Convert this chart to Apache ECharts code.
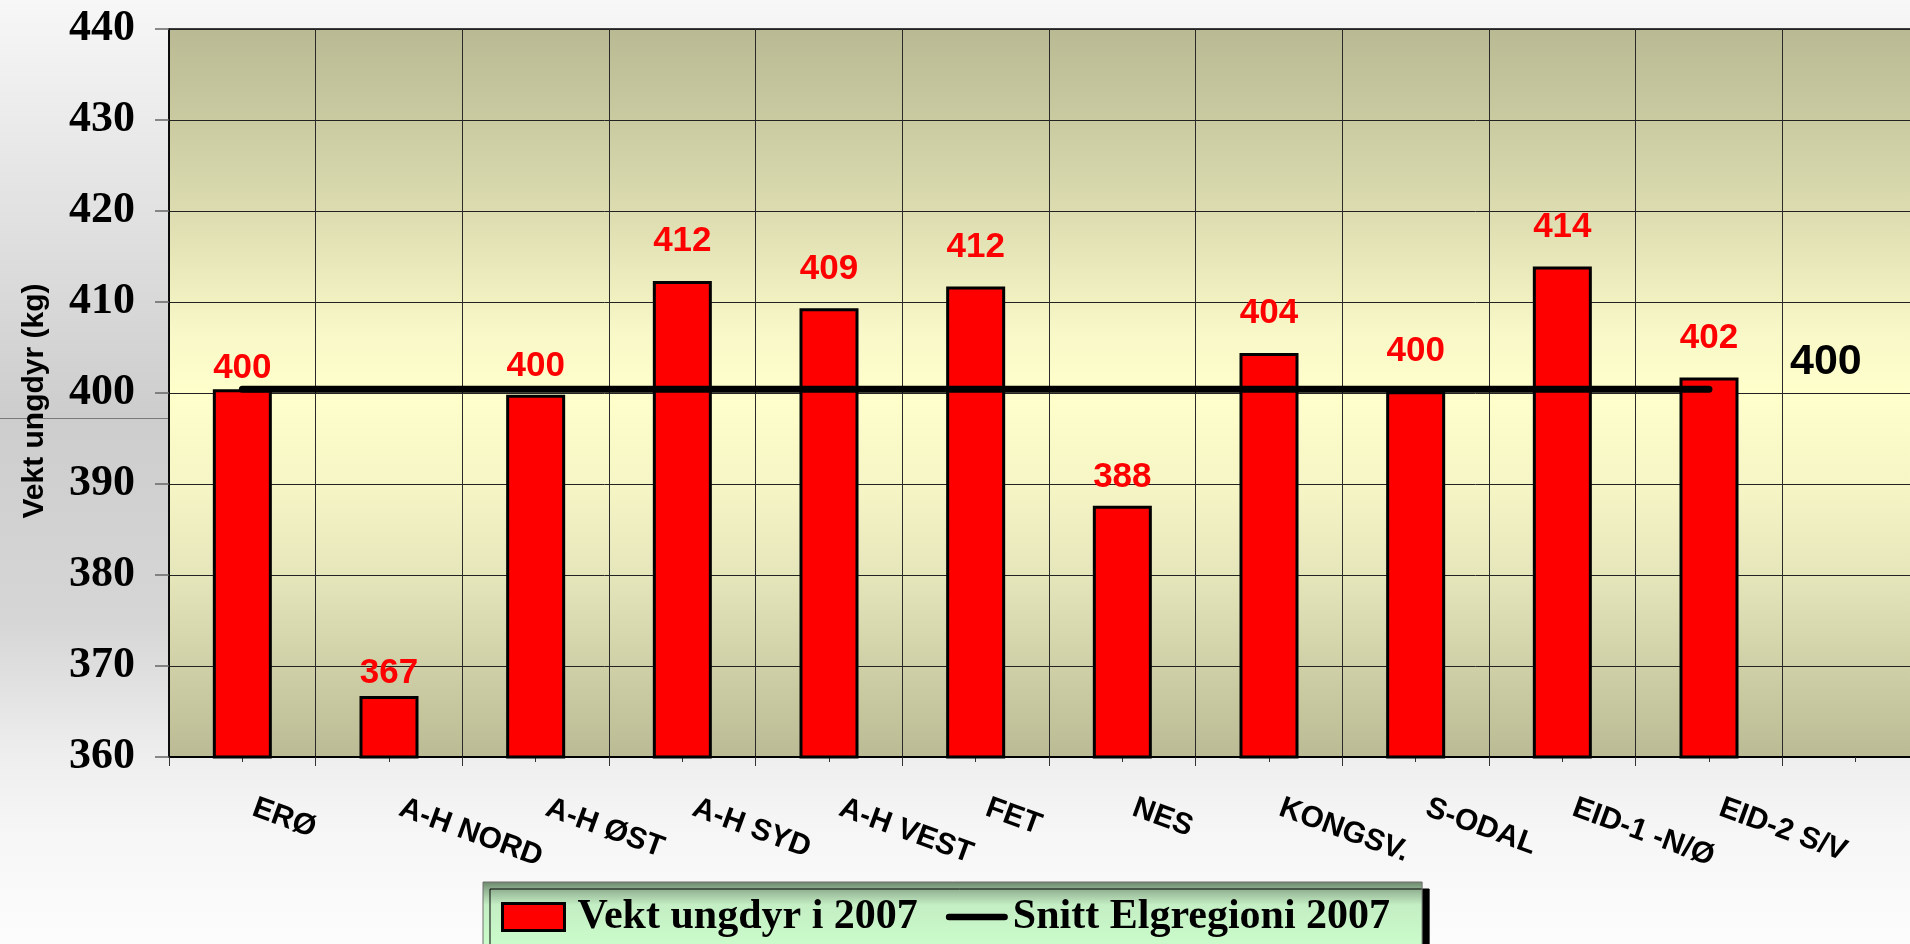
<!DOCTYPE html>
<html>
<head>
<meta charset="utf-8">
<script src="https://cdn.jsdelivr.net/npm/echarts@6/dist/echarts.min.js"></script>
<style>
  html, body { margin: 0; padding: 0; background: #ffffff; }
  #chart { width: 1910px; height: 944px; }
</style>
</head>
<body>
<div id="chart"></div>
<script>
// ---- data ----
const categories = ['ERØ', 'A-H NORD', 'A-H ØST', 'A-H SYD', 'A-H VEST', 'FET', 'NES', 'KONGSV.', 'S-ODAL', 'EID-1 -N/Ø', 'EID-2 S/V', ''];
const weights = [400.4, 366.7, 399.8, 412.3, 409.3, 411.7, 387.6, 404.4, 400.2, 413.9, 401.7];
const regionAvg = [400.4, 400.4, 400.4, 400.4, 400.4, 400.4, 400.4, 400.4, 400.4, 400.4, 400.4];
const yMin = 360, yMax = 440, yStep = 10;
const barName = 'Vekt ungdyr i 2007';
const lineName = 'Snitt Elgregioni 2007';
const yTitle = 'Vekt ungdyr (kg)';

// ---- styling (label gaps above bars, px) ----
const labelGap = [4, 5, 11, 22, 22, 22, 11, 22, 22, 22, 22];

const SANS = '"Liberation Sans", Arial, sans-serif';
const SERIF = '"Liberation Serif", "Times New Roman", serif';

const chart = echarts.init(document.getElementById('chart'), null, { renderer: 'canvas' });

const barData = weights.map((v, i) => ({ value: v, label: { distance: labelGap[i] } }));

const option = {
  animation: false,
  graphic: [
    {
      type: 'rect', silent: true, z: -100,
      shape: { x: 0, y: 0, width: 1910, height: 944 },
      style: {
        fill: new echarts.graphic.LinearGradient(0, 0, 0, 1, [
          { offset: 0, color: '#f7f7f7' },
          { offset: 0.44, color: '#cdcdcd' },
          { offset: 0.66, color: '#d6d6d6' },
          { offset: 0.80, color: '#eeeeee' },
          { offset: 0.88, color: '#f6f6f6' },
          { offset: 1, color: '#fcfcfc' }
        ])
      }
    },
    {
      type: 'line', silent: true, z: -99,
      shape: { x1: 0, y1: 418.5, x2: 169, y2: 418.5 },
      style: { stroke: '#7a7a7a', lineWidth: 1 }
    }
  ],
  grid: {
    left: 169, top: 29, width: 1760, bottom: 187,
    outerBoundsMode: 'none',
    containLabel: false,
    show: true,
    borderColor: '#000', borderWidth: 1.5,
    backgroundColor: new echarts.graphic.LinearGradient(0, 0, 0, 1, [
      { offset: 0, color: '#b9b993' },
      { offset: 0.25, color: '#dcdcb0' },
      { offset: 0.42, color: '#f8f8c8' },
      { offset: 0.5, color: '#ffffcc' },
      { offset: 0.62, color: '#f6f6c6' },
      { offset: 0.75, color: '#e6e6bb' },
      { offset: 1, color: '#baba94' }
    ])
  },
  legend: {
    left: 483, top: 882,
    orient: 'horizontal',
    padding: [14, 32, 16, 18],
    itemGap: 28,
    itemWidth: 62, itemHeight: 27,
    backgroundColor: new echarts.graphic.LinearGradient(0, 0, 0, 1, [
      { offset: 0, color: '#6a866a' },
      { offset: 0.12, color: '#94b494' },
      { offset: 0.32, color: '#c4eec4' },
      { offset: 1, color: '#ccffcc' }
    ]),
    borderColor: '#6f6f6f', borderWidth: 1,
    shadowColor: '#000', shadowBlur: 0, shadowOffsetX: 7, shadowOffsetY: 7,
    textStyle: { fontFamily: SERIF, fontWeight: 'bold', fontSize: 42, color: '#000' },
    data: [
      { name: barName, icon: 'rect', itemStyle: { color: '#ff0000', borderColor: '#000', borderWidth: 3 }, textStyle: { padding: [0, 0, 0, 8] } },
      { name: lineName, icon: 'path://M4,0L96,0A4,4,0,0,1,96,11L4,11A4,4,0,0,1,4,0Z', itemStyle: { color: '#000', borderWidth: 0 } }
    ]
  },
  xAxis: [
    {
      type: 'category', data: categories, position: 'bottom',
      boundaryGap: true,
      axisLine: { show: true, lineStyle: { color: '#000', width: 2 } },
      axisTick: { show: true, interval: 0, length: 9, lineStyle: { color: '#333', width: 1 } },
      splitLine: { show: true, interval: 0, lineStyle: { color: '#2a2a2a', width: 1 } },
      axisLabel: {
        interval: 0, rotate: -20, margin: 46,
        padding: [0, 0, 0, 12],
        fontFamily: SANS, fontWeight: 'bold', fontSize: 30, color: '#000'
      }
    },
    {
      type: 'category', data: categories, position: 'bottom',
      boundaryGap: true,
      axisLine: { show: false },
      axisTick: { show: true, interval: 0, alignWithLabel: true, length: 5, lineStyle: { color: '#333', width: 1 } },
      splitLine: { show: false },
      axisLabel: { show: false }
    }
  ],
  yAxis: {
    type: 'value', min: yMin, max: yMax, interval: yStep,
    name: yTitle, nameLocation: 'middle', nameGap: 119, nameRotate: 90,
    nameTextStyle: { fontFamily: SANS, fontWeight: 'bold', fontSize: 30, color: '#000', padding: [0, 16, 0, 0] },
    axisLine: { show: true, lineStyle: { color: '#000', width: 1.5 } },
    axisTick: { show: true, length: 14, lineStyle: { color: '#666', width: 1.5 } },
    splitLine: { show: true, lineStyle: { color: '#222', width: 1 } },
    axisLabel: { margin: 34, fontFamily: SERIF, fontWeight: 'bold', fontSize: 44, color: '#000' }
  },
  series: [
    {
      name: barName, type: 'bar', xAxisIndex: 0,
      data: barData,
      barWidth: 59,
      itemStyle: { color: '#ff0000', borderColor: '#000', borderWidth: 3 },
      label: {
        show: true, position: 'top', distance: 22,
        fontFamily: SANS, fontWeight: 'bold', fontSize: 35, color: '#ff0000',
        formatter: p => Math.round(p.value)
      },
      z: 2
    },
    {
      name: lineName, type: 'line', xAxisIndex: 0,
      data: regionAvg,
      symbol: 'none',
      itemStyle: { color: '#000' },
      lineStyle: { color: '#000', width: 7, cap: 'round' },
      endLabel: {
        show: true, distance: 5, offset: [76, -27],
        fontFamily: SANS, fontWeight: 'bold', fontSize: 43, color: '#000',
        formatter: p => String(Math.round(p.value))
      },
      z: 5
    }
  ]
};

chart.setOption(option);
</script>
</body>
</html>
